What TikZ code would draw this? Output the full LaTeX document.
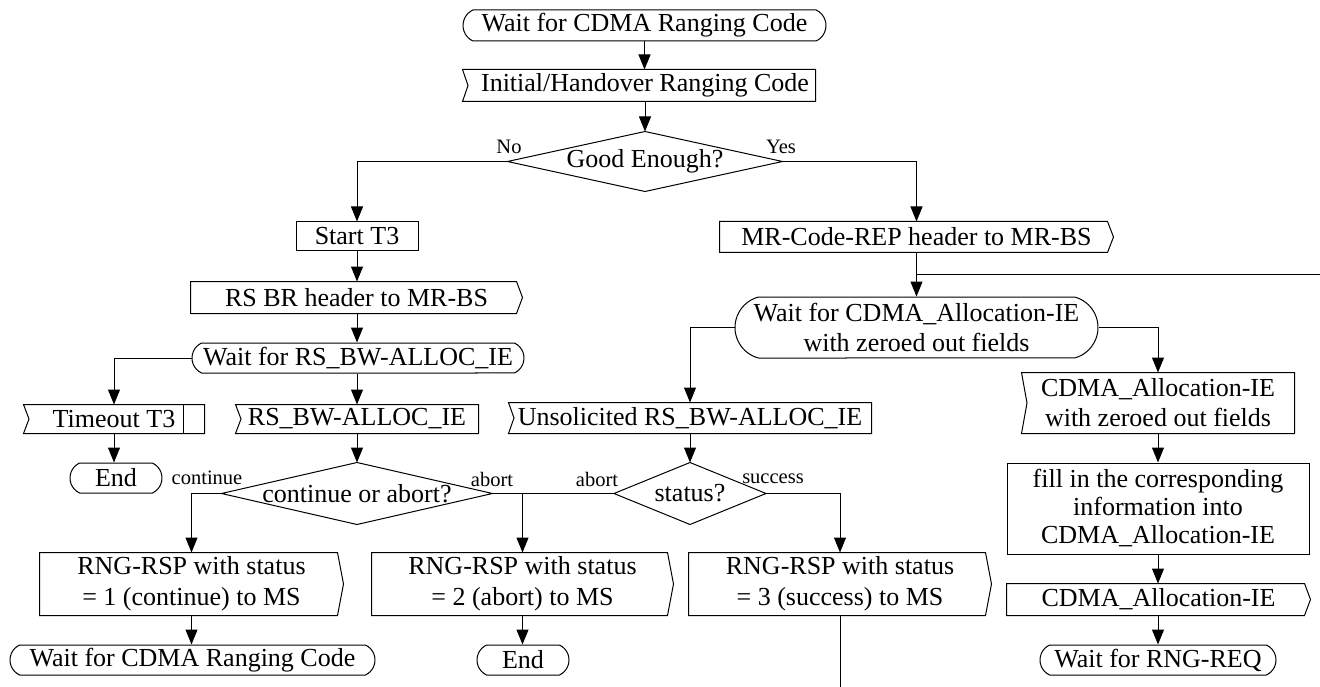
\documentclass[tikz,border=0pt]{standalone}
\usepackage{fontspec}
\setmainfont{Liberation Serif}
\usetikzlibrary{arrows.meta,shapes.misc}
\newcommand\myin[1]{\draw (#1.north west) -- (#1.north east) -- (#1.south east) -- (#1.south west) -- ([xshift=5.5pt]#1.west) -- cycle;}
\newcommand\myout[1]{\draw (#1.north west) -- ([xshift=-6pt]#1.north east) -- (#1.east) -- ([xshift=-6pt]#1.south east) -- (#1.south west) -- cycle;}
\newcommand\mydia[1]{\draw (#1.north) -- (#1.east) -- (#1.south) -- (#1.west) -- cycle;}
\begin{document}
\begin{tikzpicture}[x=1pt,y=-1pt,line width=1pt,
  box/.style={rectangle,inner sep=0pt,align=center,font=\fontsize{26}{31}\selectfont},
  rbox/.style={box,draw},
  term/.style={rounded rectangle,rounded rectangle arc length=130,draw,inner sep=0pt,align=center,font=\fontsize{26}{31}\selectfont},
  lbl/.style={inner sep=0pt,font=\fontsize{20.5}{24}\selectfont},
  arr/.style={-{Triangle[width=12pt,length=15pt]}},
  sz/.style 2 args={minimum width=#1,minimum height=#2},
]
\useasboundingbox (0,0) rectangle (1320,687);

% nodes
\node[term,sz={363pt}{31pt}] (wait1) at (644.5,25.5) {Wait for CDMA Ranging Code};
\node[box,sz={352pt}{31pt}] (init) at (639,85.5) {\hspace*{12pt}Initial/Handover Ranging Code};
\node[box,sz={274pt}{59pt}] (good) at (645,161.5) {Good Enough?};
\node[rbox,sz={122pt}{29pt}] (start) at (357,236.5) {Start T3};
\node[box,sz={331pt}{31pt}] (rsbr) at (356.5,297.5) {RS BR header to MR-BS};
\node[term,sz={332pt}{30pt}] (waitrs) at (358,358) {Wait for RS\_BW-ALLOC\_IE};
\node[box,sz={180pt}{28pt}] (timeout) at (114,419) {Timeout T3};
\node[term,sz={92pt}{30pt}] (end1) at (116,478) {End};
\node[box,sz={242pt}{28pt}] (rsbw) at (357,419) {RS\_BW-ALLOC\_IE};
\node[box,sz={270pt}{61pt}] (coa) at (357,493.5) {continue or abort?};
\node[box,sz={303pt}{62pt}] (rng1) at (191.5,584) {RNG-RSP with status\\= 1 (continue) to MS};
\node[term,sz={365pt}{30pt}] (wait2) at (192.5,660) {Wait for CDMA Ranging Code};
\node[box,sz={301pt}{62pt}] (rng2) at (522.5,584) {RNG-RSP with status\\= 2 (abort) to MS};
\node[term,sz={92pt}{30pt}] (end2) at (523,660) {End};
\node[box,sz={151pt}{61pt}] (status) at (690,493.5) {status?};
\node[box,sz={302pt}{62pt}] (rng3) at (840,584) {RNG-RSP with status\\= 3 (success) to MS};
\node[box,sz={393pt}{30pt}] (mrcode) at (916.5,237) {MR-Code-REP header to MR-BS};
\node[term,rounded rectangle arc length=150,sz={363pt}{61pt},font=\fontsize{26}{30}\selectfont] (waitcdma) at (916.5,327.5) {Wait for CDMA\_Allocation-IE\\with zeroed out fields};
\node[box,sz={362pt}{30pt}] (unsol) at (690,418) {Unsolicited RS\_BW-ALLOC\_IE};
\node[box,sz={272pt}{60pt},font=\fontsize{26}{30}\selectfont] (cdmaz) at (1158,403) {CDMA\_Allocation-IE\\with zeroed out fields};
\node[rbox,sz={302pt}{91pt},font=\fontsize{26}{28}\selectfont] (fill) at (1158,508.5) {fill in the corresponding\\information into\\CDMA\_Allocation-IE};
\node[box,sz={303pt}{31pt}] (cdma) at (1158.5,599.5) {CDMA\_Allocation-IE};
\node[term,sz={236pt}{30pt}] (waitrng) at (1158,660) {Wait for RNG-REQ};

% outlines
\myin{init} \myin{timeout} \myin{rsbw} \myin{unsol} \myin{cdmaz}
\draw ([xshift=-21pt]timeout.north east) -- ([xshift=-21pt]timeout.south east);
\myout{rsbr} \myout{rng1} \myout{rng2} \myout{rng3} \myout{mrcode} \myout{cdma}
\mydia{good} \mydia{coa} \mydia{status}

% labels
\node[lbl] (lno) at (509,147) {No};
\node[lbl] (lyes) at (781,147) {Yes};
\node[lbl] (lcont) at (207,478) {continue};
\node[lbl] (labort1) at (492,479) {abort};
\node[lbl] (labort2) at (597,479) {abort};
\node[lbl] (lsucc) at (773,479) {success};

% connectors
\coordinate (bot) at (840,687);
\coordinate (redge) at (1320,274);
\draw[arr] (wait1.south) -- (wait1.south |- init.north);
\draw[arr] (good.north |- init.south) -- (good.north);
\draw[arr] (good.west) -| (start.north);
\draw[arr] (start.south) -- (start.south |- rsbr.north);
\draw[arr] (start.south |- rsbr.south) -- (start.south |- waitrs.north);
\draw[arr] (waitrs.west) -| (timeout.north);
\draw[arr] (timeout.south) -- (timeout.south |- end1.north);
\draw[arr] (rsbw.north |- waitrs.south) -- (rsbw.north);
\draw[arr] (rsbw.south) -- (coa.north);
\draw[arr] (coa.west) -| (rng1.north);
\draw[arr] (rng1.south) -- (rng1.south |- wait2.north);
\draw (status.west) -- (coa.east);
\draw[arr] (coa.east) -| (rng2.north);
\draw[arr] (rng2.south) -- (rng2.south |- end2.north);
\draw[arr] (status.east) -| (rng3.north);
\draw (rng3.south) -- (bot);
\draw[arr] (good.east) -| (mrcode.north);
\draw[arr] (mrcode.south) -- (mrcode.south |- waitcdma.north);
\draw (redge) -- (redge -| mrcode.south);
\draw[arr] (waitcdma.west) -| (unsol.north);
\draw[arr] (unsol.south) -- (status.north);
\draw[arr] (waitcdma.east) -| (cdmaz.north);
\draw[arr] (cdmaz.south) -- (fill.north);
\draw[arr] (fill.south) -- (fill.south |- cdma.north);
\draw[arr] (fill.south |- cdma.south) -- (fill.south |- waitrng.north);
\end{tikzpicture}
\end{document}
